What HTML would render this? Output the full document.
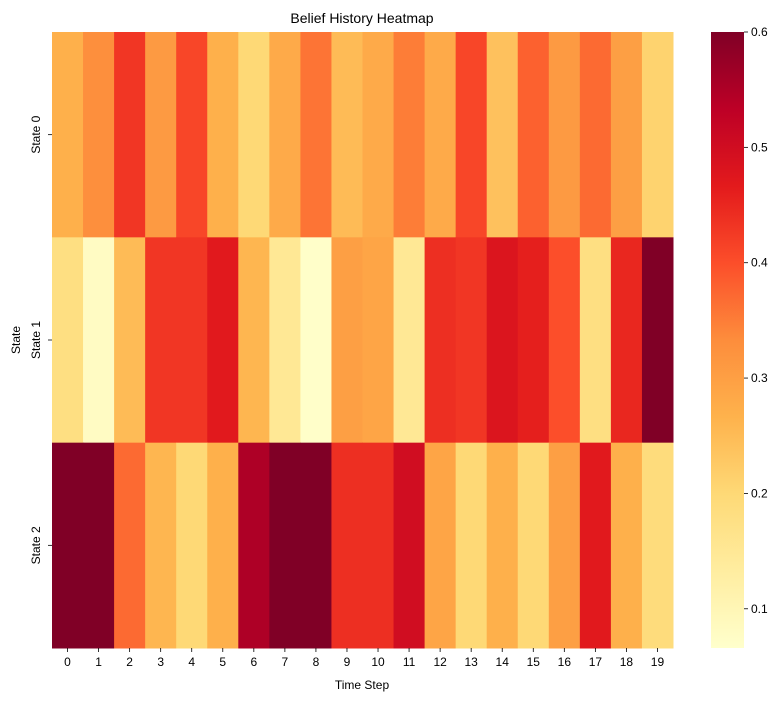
<!DOCTYPE html>
<html><head><meta charset="utf-8"><style>
html,body{margin:0;padding:0;background:#fff;}
svg{display:block;font-family:"Liberation Sans","DejaVu Sans",sans-serif;}
</style></head><body>
<svg id="chart" width="784" height="701" viewBox="0 0 784 701">
<defs><linearGradient id="cbgrad" x1="0" y1="1" x2="0" y2="0">
<stop offset="0" stop-color="#ffffcc"/><stop offset="0.125" stop-color="#ffeda0"/><stop offset="0.25" stop-color="#fed976"/><stop offset="0.375" stop-color="#feb24c"/><stop offset="0.5" stop-color="#fd8d3c"/><stop offset="0.625" stop-color="#fc4e2a"/><stop offset="0.75" stop-color="#e31a1c"/><stop offset="0.875" stop-color="#bd0026"/><stop offset="1" stop-color="#800026"/>
</linearGradient></defs>
<text x="362" y="23" font-size="14" text-anchor="middle">Belief History Heatmap</text>
<g id="cells"></g>
<g id="xticks"></g>
<g id="yticks"></g>
<text x="362" y="689" font-size="12" text-anchor="middle">Time Step</text>
<text transform="translate(20,340) rotate(-90)" font-size="12" text-anchor="middle">State</text>
<rect x="711" y="32" width="33" height="616" fill="url(#cbgrad)"/>
<g id="cbticks"></g>
</svg>
<script>
const timeSteps = [0,1,2,3,4,5,6,7,8,9,10,11,12,13,14,15,16,17,18,19];
const states = ["State 0","State 1","State 2"];
const state0 = [0.27,0.33,0.43,0.31,0.41,0.27,0.20,0.28,0.36,0.25,0.28,0.35,0.28,0.41,0.24,0.38,0.31,0.37,0.30,0.21];
const state1 = [0.18,0.08,0.25,0.43,0.43,0.47,0.26,0.15,0.07,0.30,0.29,0.15,0.44,0.43,0.48,0.46,0.40,0.18,0.45,0.60];
const state2 = [0.60,0.60,0.37,0.26,0.20,0.27,0.55,0.62,0.62,0.44,0.44,0.50,0.29,0.20,0.27,0.20,0.30,0.47,0.27,0.19];
const cbTicks = [0.1,0.2,0.3,0.4,0.5,0.6];
const vmin = 0.066, vmax = 0.6;
const rows = [state0, state1, state2];
const X0=52, X1=673, Y0=32, Y1=648;
const cw=(X1-X0)/timeSteps.length, rh=(Y1-Y0)/states.length;
const xPos=i=>X0+i*cw, yPos=j=>Y0+j*rh;
const cbY=v=>648-(v-vmin)/(vmax-vmin)*616;
const cmap=["#ffffcc","#ffeda0","#fed976","#feb24c","#fd8d3c","#fc4e2a","#e31a1c","#bd0026","#800026"];
function hex(h){return [1,3,5].map(k=>parseInt(h.substr(k,2),16));}
function color(v){let t=Math.max(0,Math.min(1,(v-vmin)/(vmax-vmin)))*8;let i=Math.min(7,Math.floor(t)),f=t-i;
const a=hex(cmap[i]),b=hex(cmap[i+1]);return "rgb("+a.map((c,k)=>Math.round(c+(b[k]-c)*f)).join(",")+")";}
const NS="http://www.w3.org/2000/svg";
function mk(tag,at,parent){const e=document.createElementNS(NS,tag);for(const k in at)e.setAttribute(k,at[k]);document.getElementById(parent).appendChild(e);return e;}
rows.forEach((row,j)=>row.forEach((v,i)=>{
const r=mk("rect",{x:xPos(i),y:yPos(j),width:cw+0.5,height:rh+0.5,fill:color(v)},"cells");


}));
timeSteps.forEach((t,i)=>{
const x=xPos(i)+cw/2;
const l=mk("line",{x1:x,x2:x,y1:648,y2:652,stroke:"#000","stroke-width":0.8},"xticks");


const tx=mk("text",{x:x,y:666,"font-size":12,"text-anchor":"middle"},"xticks");tx.textContent=t;


});
states.forEach((s,j)=>{
const y=yPos(j)+rh/2;
const l=mk("line",{x1:48,x2:52,y1:y,y2:y,stroke:"#000","stroke-width":0.8},"yticks");


const tx=mk("text",{transform:"translate(40,"+y+") rotate(-90)","font-size":12,"text-anchor":"middle"},"yticks");tx.textContent=s;


});
cbTicks.forEach(v=>{
const y=cbY(v);
const l=mk("line",{x1:744,x2:748,y1:y,y2:y,stroke:"#000","stroke-width":0.8},"cbticks");


const tx=mk("text",{x:751,y:y+4,"font-size":12},"cbticks");tx.textContent=v.toFixed(1);


});
</script>
</body></html>
